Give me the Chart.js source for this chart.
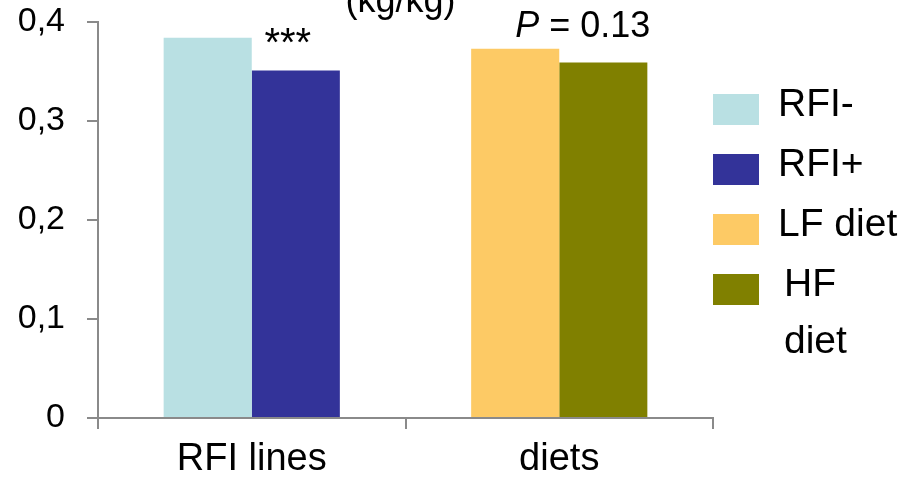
<!DOCTYPE html>
<html>
<head>
<meta charset="utf-8">
<script src="https://cdn.jsdelivr.net/npm/chart.js@4.4.1/dist/chart.umd.min.js"></script>
<style>
  html, body { margin: 0; padding: 0; background: #fff; }
  #wrap { width: 910px; height: 481px; position: relative; }
</style>
</head>
<body>
<div id="wrap"><canvas id="chart"></canvas></div>
<script>
// data
const categories = ['RFI lines', 'diets'];
const seriesNames = ['RFI-', 'RFI+', 'LF diet', 'HF diet'];
const rfiMinus = [0.384, null];
const rfiPlus = [0.351, null];
const lfDiet = [null, 0.373];
const hfDiet = [null, 0.359];
const seriesColors = ['#B9E0E3', '#333399', '#FDCA65', '#808000'];
const yTickLabels = ['0', '0,1', '0,2', '0,3', '0,4'];
const legendLines = [['RFI-'], ['RFI+'], ['LF diet'], ['HF', 'diet']];
const unitText = '(kg/kg)';
const starsText = '***';
const pText = ['P', ' = 0.13'];

const FONT = "'Liberation Sans', Arial, sans-serif";
const AXIS = '#8a8a8a';

Chart.defaults.color = '#000';
Chart.defaults.font.family = FONT;

// text on top of the chart: unit line, significance notes, legend
const overlay = {
  id: 'overlay',
  afterDraw(chart) {
    const ctx = chart.ctx;
    const area = chart.chartArea;
    ctx.save();
    ctx.fillStyle = '#000';
    ctx.textBaseline = 'alphabetic';

    // unit line (cut by the top edge)
    ctx.font = '36px ' + FONT;
    ctx.textAlign = 'center';
    ctx.fillText(unitText, (area.left + area.right) / 2 - 5, 12);

    // *** above RFI+ bar
    const plusBar = chart.getDatasetMeta(1).data[0];
    ctx.font = '40px ' + FONT;
    ctx.fillText(starsText, plusBar.x - 8, 56);

    // P = 0.13 starting at the LF bar centre
    const lfBar = chart.getDatasetMeta(2).data[1];
    ctx.textAlign = 'left';
    ctx.font = 'italic 36px ' + FONT;
    ctx.fillText(pText[0], lfBar.x, 37);
    const w = ctx.measureText(pText[0]).width;
    ctx.font = '36px ' + FONT;
    ctx.fillText(pText[1], lfBar.x + w, 37);

    // legend
    const boxX = area.right;
    ctx.font = '39px ' + FONT;
    ctx.textBaseline = 'middle';
    chart.data.datasets.forEach((ds, i) => {
      const top = 94 + i * 60;
      ctx.fillStyle = ds.backgroundColor;
      ctx.fillRect(boxX, top, 46, 31);
      ctx.fillStyle = '#000';
      const lines = legendLines[i];
      const tx = lines.length > 1 ? boxX + 71 : boxX + 65;
      lines.forEach((ln, j) => {
        ctx.fillText(ln, tx, top + 11 + j * 57);
      });
    });
    ctx.restore();
  }
};

new Chart(document.getElementById('chart'), {
  type: 'bar',
  data: {
    labels: categories,
    datasets: [
      { label: seriesNames[0], data: rfiMinus, backgroundColor: seriesColors[0] },
      { label: seriesNames[1], data: rfiPlus, backgroundColor: seriesColors[1] },
      { label: seriesNames[2], data: lfDiet, backgroundColor: seriesColors[2] },
      { label: seriesNames[3], data: hfDiet, backgroundColor: seriesColors[3] },
    ],
  },
  options: {
    responsive: true,
    maintainAspectRatio: false,
    animation: false,
    skipNull: true,
    categoryPercentage: 0.573,
    barPercentage: 1,
    layout: { padding: { top: 22, right: 197, left: 0, bottom: 0 } },
    plugins: {
      legend: { display: false },
      tooltip: { enabled: false },
    },
    scales: {
      x: {
        afterFit: (scale) => { scale.height = 63; },
        border: { color: AXIS, width: 2 },
        grid: {
          offset: true,
          drawOnChartArea: false,
          drawTicks: true,
          tickLength: 11,
          color: AXIS,
          lineWidth: 2,
        },
        ticks: {
          padding: 8,
          maxRotation: 0,
          font: { size: 38 },
          color: '#000',
        },
      },
      y: {
        min: 0,
        max: 0.4,
        afterFit: (scale) => {
          scale.width = 98;
          // keep the plot top fixed, labels may overflow
          scale.paddingTop = 0;
          scale.paddingBottom = 0;
        },
        border: { color: AXIS, width: 2 },
        grid: {
          drawOnChartArea: false,
          drawTicks: true,
          tickLength: 11,
          color: AXIS,
          lineWidth: 2,
        },
        ticks: {
          stepSize: 0.1,
          padding: 22,
          font: { size: 34 },
          color: '#000',
          callback: (value, index) => yTickLabels[index],
        },
      },
    },
  },
  plugins: [overlay],
});
</script>
</body>
</html>
